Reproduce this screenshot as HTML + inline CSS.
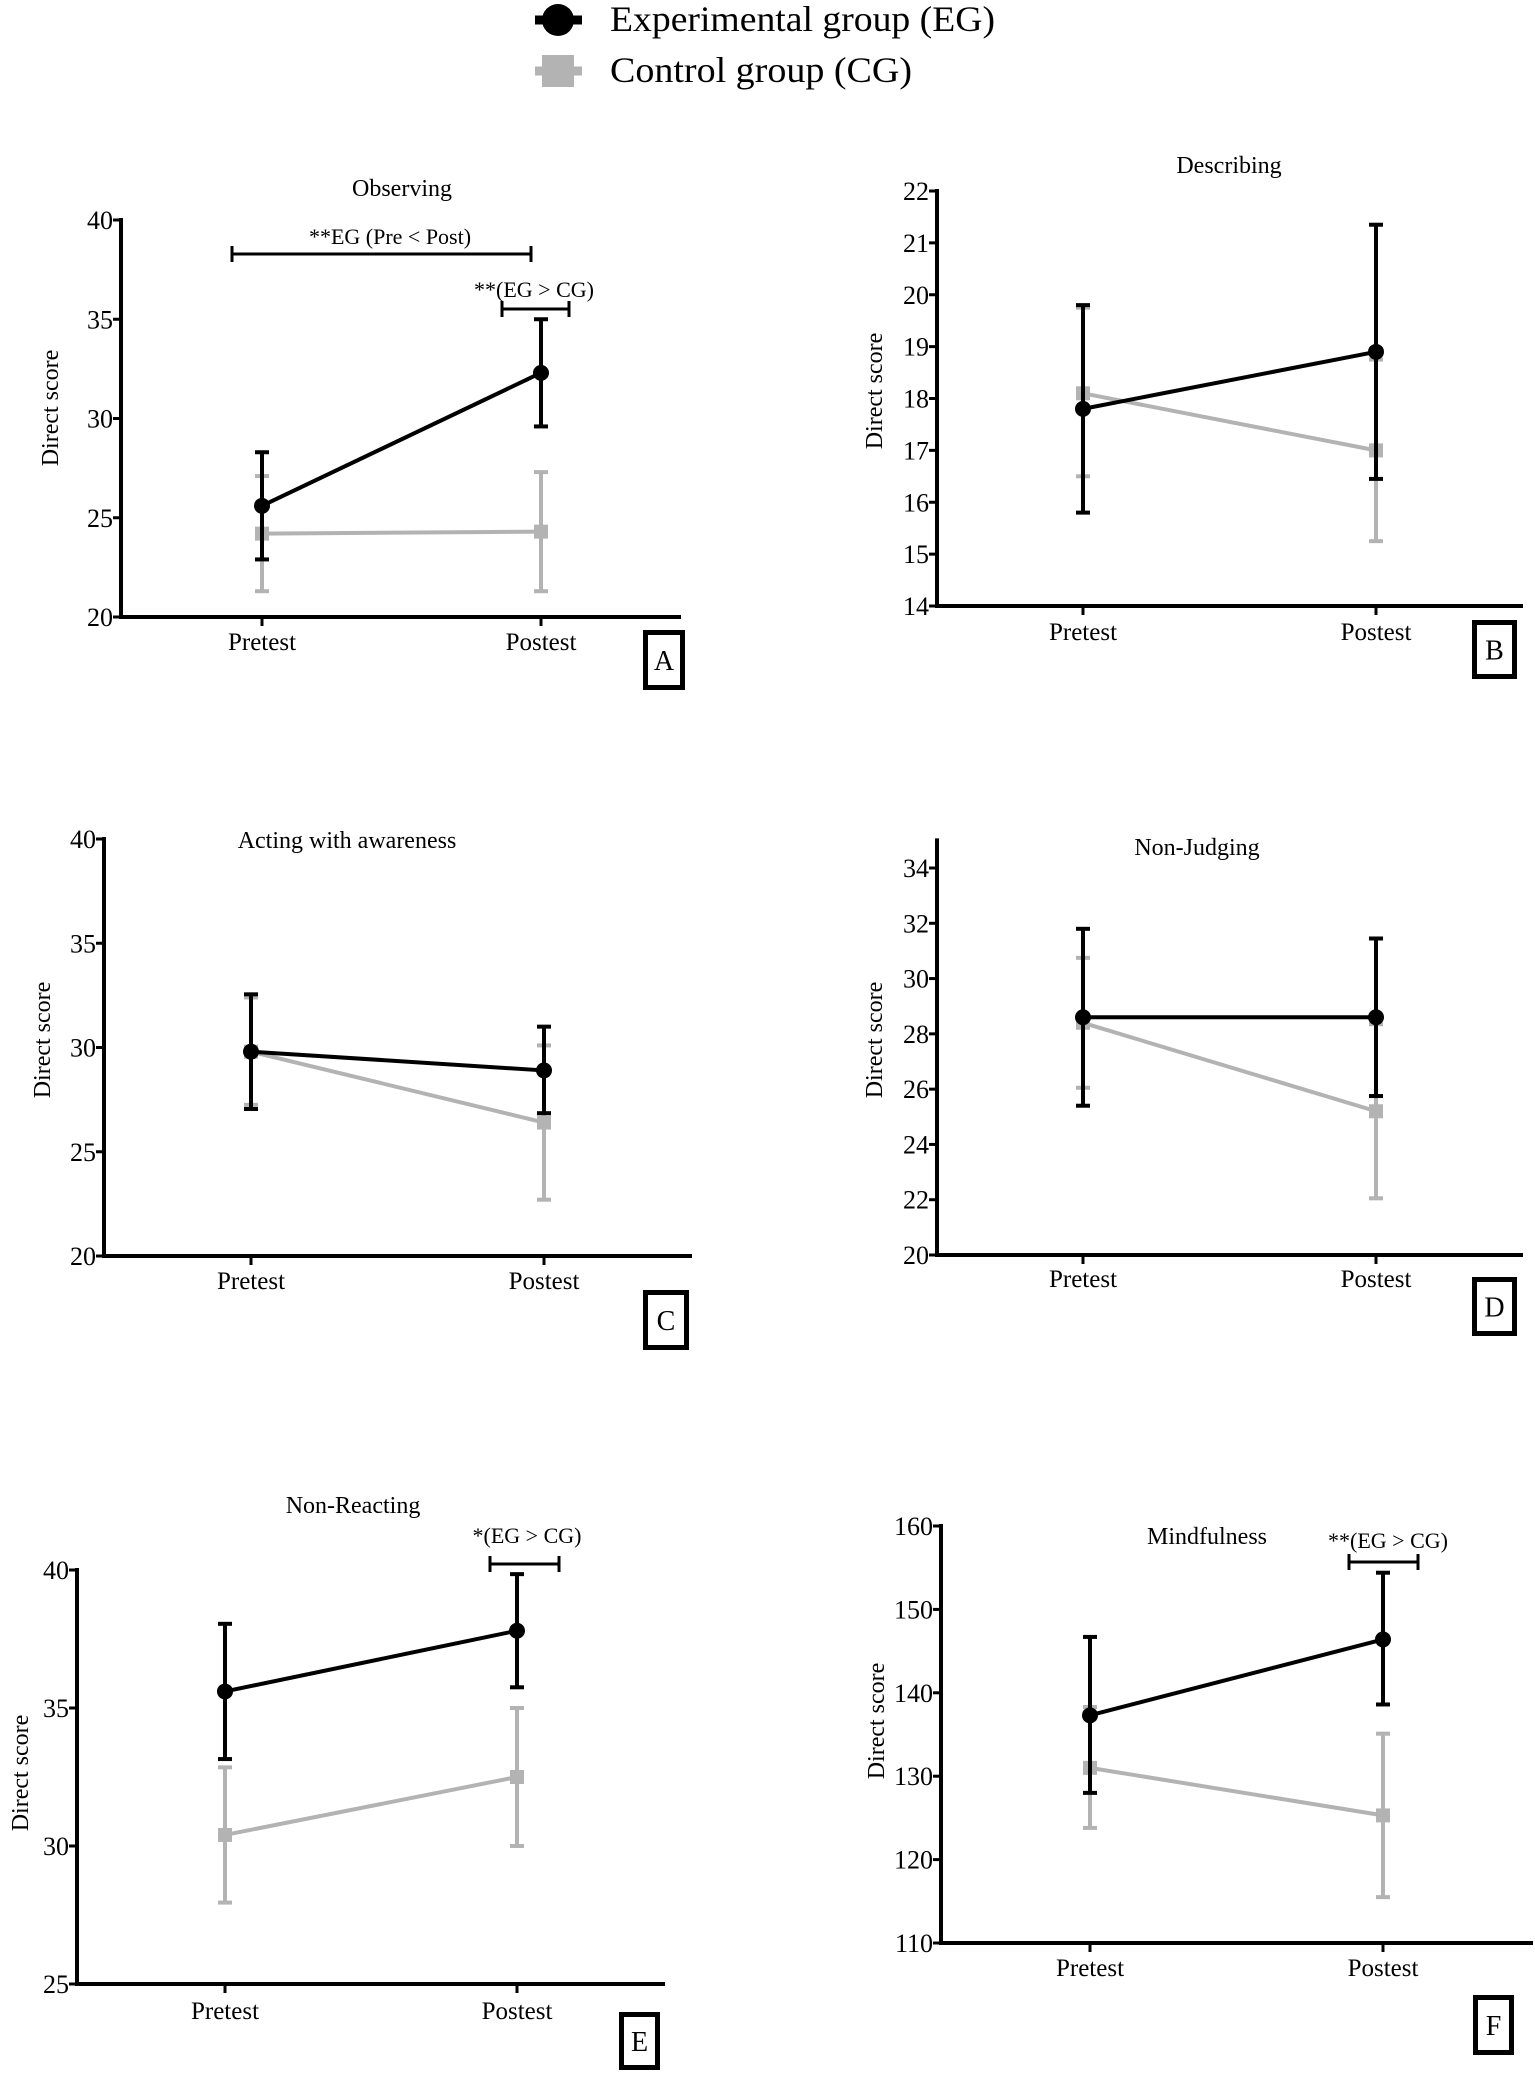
<!DOCTYPE html>
<html><head><meta charset="utf-8"><style>
body{margin:0;background:#fff;}
svg{display:block;font-family:"Liberation Serif",serif;}
</style></head><body>
<svg id="fig" width="1535" height="2075" viewBox="0 0 1535 2075">
<g>
<g>
<line x1="535" y1="20" x2="582" y2="20" stroke="#000" stroke-width="9"/>
<circle cx="558" cy="20" r="16" fill="#000"/>
<text x="610" y="31" font-size="36" textLength="385" lengthAdjust="spacingAndGlyphs">Experimental group (EG)</text></g>
<g>
<line x1="535" y1="71" x2="582" y2="71" stroke="#b3b3b3" stroke-width="9"/>
<rect x="542" y="55" width="32" height="32" fill="#b3b3b3"/>
<text x="610" y="82" font-size="36" textLength="302" lengthAdjust="spacingAndGlyphs">Control group (CG)</text></g>
</g>
</svg>
<script>
const categories = ["Pretest","Postest"];
const panelTitles = ["Observing","Describing","Acting with awareness","Non-Judging","Non-Reacting","Mindfulness"];
const panelLetters = ["A","B","C","D","E","F"];
const egMean = [[25.6,32.3],[17.8,18.9],[29.8,28.9],[28.6,28.6],[35.6,37.8],[137.3,146.4]];
const egHigh = [[28.3,35.0],[19.8,21.35],[32.55,31.0],[31.8,31.45],[38.05,39.85],[146.7,154.4]];
const egLow  = [[22.9,29.6],[15.8,16.45],[27.05,26.85],[25.4,25.75],[33.15,35.75],[128.0,138.6]];
const cgMean = [[24.2,24.3],[18.1,17.0],[29.8,26.4],[28.4,25.2],[30.4,32.5],[131.0,125.3]];
const cgHigh = [[27.1,27.3],[19.75,18.75],[32.4,30.1],[30.75,28.35],[32.85,35.0],[138.3,135.1]];
const cgLow  = [[21.3,21.3],[16.5,15.25],[27.25,22.7],[26.05,22.05],[27.95,30.0],[123.8,115.5]];
const yTicks = [[20,25,30,35,40],[14,15,16,17,18,19,20,21,22],[20,25,30,35,40],[20,22,24,26,28,30,32,34],[25,30,35,40],[110,120,130,140,150,160]];
const yTop = [40,22,40,35,40,160];

const L = [
 {ax:121,x0:262,x1:541,xe:681,yb:617,yt:220,title:[402,196],yl:[50,408],box:[643,630,42,60],lab:641},
 {ax:937,x0:1083,x1:1376,xe:1523,yb:606,yt:191,title:[1229,173],yl:[874,391],box:[1472,620,45,59],lab:631},
 {ax:104,x0:251,x1:544,xe:692,yb:1256,yt:839,title:[347,848],yl:[42,1040],box:[643,1290,46,60],lab:1280},
 {ax:937,x0:1083,x1:1376,xe:1523,yb:1255,yt:868,title:[1197,855],yl:[874,1040],box:[1472,1277,45,59],lab:1278},
 {ax:77,x0:225,x1:517,xe:665,yb:1984,yt:1570,title:[353,1513],yl:[20,1773],box:[619,2012,41,58],lab:2010},
 {ax:941,x0:1090,x1:1383,xe:1533,yb:1943,yt:1526,title:[1207,1544],yl:[876,1721],box:[1473,1995,41,60],lab:1967}
];
const svg = document.getElementById('fig');
const NS = "http://www.w3.org/2000/svg";
function mk(tag, attrs, parent){const e=document.createElementNS(NS,tag);for(const k in attrs)e.setAttribute(k,attrs[k]);parent.appendChild(e);return e;}

for(let p=0;p<6;p++){
  const c=L[p]; const t=yTicks[p]; const ymin=t[0], ymax=t[t.length-1];
  const yS=v=>c.yb-(v-ymin)/(ymax-ymin)*(c.yb-c.yt);
  const xS=i=>i===0?c.x0:c.x1;
  const g=mk('g',{},svg);
  
  
  const ya=mk('line',{x1:c.ax,y1:yS(yTop[p])-2,x2:c.ax,y2:c.yb+2,stroke:'#000','stroke-width':4},g);
  
  
  const xa=mk('line',{x1:c.ax-2,y1:c.yb,x2:c.xe,y2:c.yb,stroke:'#000','stroke-width':4},g);
  
  
  t.forEach(v=>{
    mk('line',{x1:c.ax-8,y1:yS(v),x2:c.ax,y2:yS(v),stroke:'#000','stroke-width':3},g);
    const tx=mk('text',{x:c.ax-8,y:yS(v)+9,'font-size':26,'text-anchor':'end'},g);
    tx.textContent=v;
    
    
  });
  categories.forEach((cat,i)=>{
    mk('line',{x1:xS(i),y1:c.yb,x2:xS(i),y2:c.yb+9,stroke:'#000','stroke-width':3},g);
    const tx=mk('text',{x:xS(i),y:c.lab+9,'font-size':25,'text-anchor':'middle'},g);
    tx.textContent=cat;
    
    
  });
  const yl=mk('text',{x:0,y:0,'font-size':24,'text-anchor':'middle',transform:`translate(${c.yl[0]+8},${c.yl[1]}) rotate(-90)`},g);
  yl.textContent='Direct score';
  
  
  const ti=mk('text',{x:c.title[0],y:c.title[1],'font-size':24,'text-anchor':'middle'},g);
  ti.textContent=panelTitles[p];
  
  
  const bx=mk('rect',{x:c.box[0]+2.5,y:c.box[1]+2.5,width:c.box[2]-5,height:c.box[3]-5,fill:'none',stroke:'#000','stroke-width':5},g);
  
  
  const bt=mk('text',{x:c.box[0]+c.box[2]/2,y:c.box[1]+c.box[3]/2+10,'font-size':28,'text-anchor':'middle'},g);
  bt.textContent=panelLetters[p];
  
  
  [[cgMean,cgHigh,cgLow,'#b3b3b3','cg'],[egMean,egHigh,egLow,'#000','eg']].forEach(([M,H,Lo,col,nm])=>{
    const sg=mk('g',{},g);
    
    
    for(let i=0;i<2;i++){
      const x=xS(i);
      mk('line',{x1:x,y1:yS(H[p][i]),x2:x,y2:yS(Lo[p][i]),stroke:col,'stroke-width':4},sg);
      mk('line',{x1:x-7,y1:yS(H[p][i]),x2:x+7,y2:yS(H[p][i]),stroke:col,'stroke-width':4},sg);
      mk('line',{x1:x-7,y1:yS(Lo[p][i]),x2:x+7,y2:yS(Lo[p][i]),stroke:col,'stroke-width':4},sg);
    }
    const ln=mk('line',{x1:xS(0),y1:yS(M[p][0]),x2:xS(1),y2:yS(M[p][1]),stroke:col,'stroke-width':4},sg);
    
    
    for(let i=0;i<2;i++){
      let m;
      if(nm==='eg') m=mk('circle',{cx:xS(i),cy:yS(M[p][i]),r:8,fill:col},sg);
      else m=mk('rect',{x:xS(i)-7,y:yS(M[p][i])-7,width:14,height:14,fill:col},sg);
      
      
    }
  });
}
function bracket(x1,x2,y,tx,ty,label){
  const g=mk('g',{},svg);
  
  
  mk('line',{x1:x1,y1:y,x2:x2,y2:y,stroke:'#000','stroke-width':3},g);
  mk('line',{x1:x1,y1:y-8,x2:x1,y2:y+8,stroke:'#000','stroke-width':3},g);
  mk('line',{x1:x2,y1:y-8,x2:x2,y2:y+8,stroke:'#000','stroke-width':3},g);
  const t=mk('text',{x:tx,y:ty,'font-size':22,'text-anchor':'middle'},g);
  t.textContent=label;
}
bracket(232,531,254,390,244,'**EG (Pre < Post)');
bracket(502,569,309,534,297,'**(EG > CG)');
bracket(490,559,1564,527,1543,'*(EG > CG)');
bracket(1349,1418,1562,1388,1548,'**(EG > CG)');
</script>
</body></html>
